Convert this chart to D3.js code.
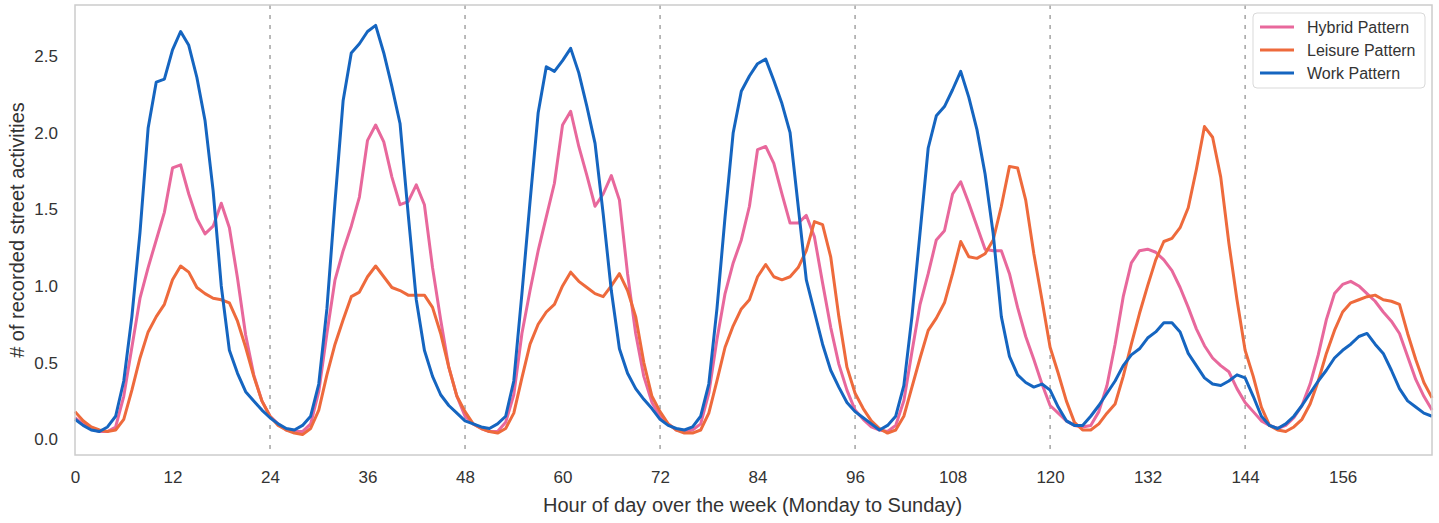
<!DOCTYPE html>
<html>
<head>
<meta charset="utf-8">
<script src="https://cdn.jsdelivr.net/npm/d3@7"></script>
<style>
  body { margin: 0; background: #fff; }
  svg { display: block; font-family: "Liberation Sans", Arial, sans-serif; }
</style>
</head>
<body>
<svg id="chart" width="1439" height="523"></svg>
<script>
// hourly averages, hour 0 = Monday 00:00 ... hour 167 = Sunday 23:00
const seriesNames = ['Hybrid Pattern', 'Leisure Pattern', 'Work Pattern'];
const seriesColors = ['#e8689c', '#ee6a3c', '#1565c0'];

const hybrid = [
  0.14, 0.10, 0.07, 0.05, 0.05, 0.08, 0.28, 0.60, 0.92, 1.12, 1.30, 1.48, 1.77, 1.79, 1.60, 1.44, 1.34, 1.39, 1.54, 1.38, 1.05, 0.68, 0.42, 0.25,
  0.15, 0.10, 0.06, 0.05, 0.05, 0.10, 0.31, 0.69, 1.04, 1.23, 1.39, 1.58, 1.95, 2.05, 1.94, 1.71, 1.53, 1.55, 1.66, 1.53, 1.12, 0.78, 0.47, 0.28,
  0.15, 0.10, 0.07, 0.05, 0.05, 0.11, 0.29, 0.69, 0.97, 1.23, 1.45, 1.67, 2.05, 2.14, 1.91, 1.72, 1.52, 1.60, 1.72, 1.56, 1.08, 0.69, 0.41, 0.24,
  0.15, 0.10, 0.06, 0.05, 0.06, 0.10, 0.30, 0.65, 0.95, 1.15, 1.30, 1.52, 1.89, 1.91, 1.80, 1.60, 1.41, 1.41, 1.46, 1.32, 1.02, 0.73, 0.49, 0.32,
  0.19, 0.13, 0.08, 0.06, 0.05, 0.09, 0.25, 0.57, 0.88, 1.08, 1.30, 1.36, 1.60, 1.68, 1.54, 1.39, 1.24, 1.23, 1.23, 1.08, 0.86, 0.67, 0.52, 0.36,
  0.22, 0.17, 0.12, 0.09, 0.08, 0.09, 0.18, 0.35, 0.62, 0.93, 1.15, 1.23, 1.24, 1.22, 1.17, 1.10, 0.99, 0.86, 0.72, 0.61, 0.53, 0.48, 0.44, 0.33,
  0.24, 0.18, 0.12, 0.09, 0.07, 0.09, 0.14, 0.22, 0.36, 0.55, 0.78, 0.95, 1.01, 1.03, 1.00, 0.95, 0.90, 0.83, 0.77, 0.69, 0.54, 0.39, 0.28, 0.19
];

const leisure = [
  0.18, 0.12, 0.08, 0.06, 0.05, 0.06, 0.13, 0.32, 0.53, 0.70, 0.80, 0.88, 1.04, 1.13, 1.09, 0.99, 0.95, 0.92, 0.91, 0.89, 0.77, 0.60, 0.41, 0.25,
  0.15, 0.09, 0.06, 0.04, 0.03, 0.07, 0.19, 0.42, 0.62, 0.78, 0.93, 0.96, 1.06, 1.13, 1.06, 0.99, 0.97, 0.94, 0.94, 0.94, 0.86, 0.69, 0.47, 0.28,
  0.18, 0.10, 0.07, 0.05, 0.04, 0.07, 0.17, 0.40, 0.62, 0.75, 0.83, 0.88, 1.00, 1.09, 1.03, 0.99, 0.95, 0.93, 1.00, 1.08, 0.97, 0.80, 0.50, 0.28,
  0.18, 0.10, 0.06, 0.04, 0.04, 0.06, 0.17, 0.38, 0.60, 0.74, 0.85, 0.91, 1.06, 1.14, 1.06, 1.04, 1.06, 1.12, 1.23, 1.42, 1.40, 1.19, 0.80, 0.47,
  0.30, 0.20, 0.12, 0.07, 0.04, 0.06, 0.15, 0.34, 0.53, 0.71, 0.79, 0.89, 1.08, 1.29, 1.19, 1.18, 1.21, 1.30, 1.52, 1.78, 1.77, 1.56, 1.21, 0.91,
  0.60, 0.43, 0.25, 0.11, 0.06, 0.06, 0.10, 0.17, 0.23, 0.41, 0.62, 0.82, 1.00, 1.17, 1.29, 1.31, 1.38, 1.51, 1.76, 2.04, 1.97, 1.71, 1.28, 0.91,
  0.58, 0.41, 0.21, 0.09, 0.06, 0.05, 0.08, 0.13, 0.23, 0.38, 0.56, 0.71, 0.83, 0.89, 0.91, 0.93, 0.94, 0.91, 0.90, 0.88, 0.69, 0.52, 0.37, 0.27
];

const work = [
  0.13, 0.09, 0.06, 0.05, 0.08, 0.15, 0.38, 0.80, 1.35, 2.03, 2.33, 2.35, 2.54, 2.66, 2.57, 2.36, 2.08, 1.62, 1.00, 0.58, 0.43, 0.31, 0.25, 0.19,
  0.14, 0.10, 0.07, 0.06, 0.09, 0.15, 0.36, 0.85, 1.55, 2.21, 2.52, 2.58, 2.66, 2.70, 2.52, 2.30, 2.06, 1.47, 0.91, 0.58, 0.41, 0.29, 0.22, 0.17,
  0.12, 0.10, 0.08, 0.07, 0.10, 0.15, 0.38, 0.95, 1.55, 2.13, 2.43, 2.40, 2.47, 2.55, 2.39, 2.17, 1.93, 1.47, 0.97, 0.59, 0.43, 0.33, 0.26, 0.20,
  0.13, 0.09, 0.07, 0.06, 0.08, 0.15, 0.36, 0.85, 1.45, 2.00, 2.27, 2.37, 2.45, 2.48, 2.34, 2.19, 2.00, 1.52, 1.04, 0.83, 0.62, 0.45, 0.34, 0.24,
  0.18, 0.14, 0.10, 0.06, 0.09, 0.15, 0.35, 0.80, 1.35, 1.90, 2.11, 2.17, 2.28, 2.40, 2.23, 2.02, 1.73, 1.34, 0.80, 0.54, 0.42, 0.37, 0.34, 0.36,
  0.32, 0.21, 0.12, 0.09, 0.09, 0.15, 0.22, 0.30, 0.38, 0.48, 0.55, 0.59, 0.66, 0.70, 0.76, 0.76, 0.70, 0.56, 0.48, 0.40, 0.36, 0.35, 0.38, 0.42,
  0.40, 0.28, 0.15, 0.09, 0.07, 0.10, 0.15, 0.22, 0.30, 0.38, 0.45, 0.53, 0.58, 0.62, 0.67, 0.69, 0.62, 0.56, 0.45, 0.33, 0.25, 0.21, 0.17, 0.15
];

const xTicks = [0, 12, 24, 36, 48, 60, 72, 84, 96, 108, 120, 132, 144, 156];
const dayBreaks = [24, 48, 72, 96, 120, 144];
const yTicks = [0.0, 0.5, 1.0, 1.5, 2.0, 2.5];

(function() {

  let svg = d3.select('#chart');
  let margin = { top: 5, right: 7, bottom: 68, left: 75 };
  let plotWidth = 1439 - margin.left - margin.right,
      plotHeight = 523 - margin.top - margin.bottom;

  let xScale = d3.scaleLinear().domain([0, 167]).range([0, plotWidth]);
  let yScale = d3.scaleLinear().domain([-0.103, 2.833]).range([plotHeight, 0]);

  let g = svg.append('g')
    .attr('transform', `translate(${margin.left}, ${margin.top})`);

  // day separators
  g.selectAll('.day-line')
    .data(dayBreaks)
    .enter().append('line')
      .attr('x1', (d) => xScale(d))
      .attr('x2', (d) => xScale(d))
      .attr('y1', 0)
      .attr('y2', plotHeight)
      .attr('stroke', '#8c8c8c')
      .attr('stroke-width', 1.2)
      .attr('stroke-dasharray', '4,6');

  let line = d3.line()
    .x((d, i) => xScale(i))
    .y((d) => yScale(d));

  [hybrid, leisure, work].forEach((values, k) => {
    g.append('path')
      .datum(values)
      .attr('fill', 'none')
      .attr('stroke', seriesColors[k])
      .attr('stroke-width', 3)
      .attr('stroke-linejoin', 'round')
      .attr('d', line);
  });

  // frame
  g.append('rect')
    .attr('width', plotWidth)
    .attr('height', plotHeight)
    .attr('fill', 'none')
    .attr('stroke', '#cccccc')
    .attr('stroke-width', 1.5);

  // x axis
  let xAxis = g.append('g')
    .attr('transform', `translate(0, ${plotHeight})`)
    .call(d3.axisBottom(xScale).tickValues(xTicks).tickSize(0).tickPadding(16));
  xAxis.select('.domain').remove();
  xAxis.selectAll('text')
    .attr('font-size', '17px')
    .attr('fill', '#333');

  // y axis
  let yAxis = g.append('g')
    .call(d3.axisLeft(yScale).tickValues(yTicks).tickFormat(d3.format('.1f')).tickSize(0).tickPadding(17));
  yAxis.select('.domain').remove();
  yAxis.selectAll('text')
    .attr('font-size', '17px')
    .attr('fill', '#333');

  svg.append('text')
    .attr('x', margin.left + plotWidth / 2 - 1)
    .attr('y', 512)
    .attr('text-anchor', 'middle')
    .attr('font-size', '20px')
    .attr('fill', '#333')
    .text('Hour of day over the week (Monday to Sunday)');

  svg.append('text')
    .attr('transform', `translate(24, ${margin.top + 225}) rotate(-90)`)
    .attr('text-anchor', 'middle')
    .attr('font-size', '20px')
    .attr('fill', '#333')
    .text('# of recorded street activities');

  // legend
  let legend = svg.append('g').attr('transform', 'translate(1253, 13)');
  legend.append('rect')
    .attr('width', 172)
    .attr('height', 75)
    .attr('rx', 4)
    .attr('fill', '#fff')
    .attr('stroke', '#d9d9d9');
  seriesNames.forEach((name, k) => {
    let row = legend.append('g').attr('transform', `translate(0, ${14 + k * 23})`);
    row.append('line')
      .attr('x1', 7).attr('x2', 41)
      .attr('stroke', seriesColors[k])
      .attr('stroke-width', 3);
    row.append('text')
      .attr('x', 54)
      .attr('dy', '0.35em')
      .attr('font-size', '16px')
      .attr('fill', '#333')
      .text(name);
  });

})();
</script>
</body>
</html>
